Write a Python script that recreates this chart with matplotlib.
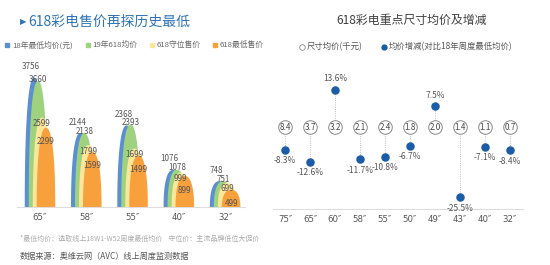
import matplotlib
matplotlib.use("Agg")
import matplotlib.pyplot as plt
import numpy as np
from matplotlib.lines import Line2D

plt.rcParams['font.family'] = ['Noto Sans CJK SC', 'DejaVu Sans']

# left chart data
sizes_l = ['65″', '58″', '55″', '40″', '32″']
series_names = ['18年最低均价(元)', '19年618均价', '618守位售价', '618最低售价']
low18 = [3756, 2144, 2368, 1076, 748]
avg19 = [3660, 2138, 2393, 1078, 751]
hold618 = [2599, 1799, 1699, 999, 699]
low618 = [2299, 1599, 1499, 899, 499]

# right chart data
sizes_r = ['75″', '65″', '60″', '58″', '55″', '50″', '49″', '43″', '40″', '32″']
avg_price = [8.4, 3.7, 3.2, 2.1, 2.4, 1.8, 2.0, 1.4, 1.1, 0.7]
change_pct = [-8.3, -12.6, 13.6, -11.7, -10.8, -6.7, 7.5, -25.5, -7.1, -8.4]

colors = ['#5b8fd0', '#9fd27e', '#fbe69a', '#f7a03c']
label_dy = [11, 2, -6, -14]      # px, label offset from the top of each arch
label_dx = [-3, 0, 0, 0]

W, H = 550, 265
fig = plt.figure(figsize=(W / 100, H / 100), dpi=100)
px = 0.72  # points per pixel


def fx(x):
    return x / W


def fy(y):
    return 1 - y / H


# ---------- left chart ----------
axl = fig.add_axes([fx(17), fy(207), fx(228), 147 / H])
axl.set_xlim(-0.497, 4.43)
axl.set_ylim(0, 4270)
width = 0.4
step = 0.0865
t = np.linspace(0, np.pi, 120)
ex = 2 / 2.3  # superellipse exponent -> fuller arch
for k, vals in enumerate([low18, avg19, hold618, low618]):
    for i, v in enumerate(vals):
        c = i + (k - 1.5) * step
        ct = np.cos(t)
        xs = c - width / 2 * np.sign(ct) * np.abs(ct) ** ex
        ys = v * np.abs(np.sin(t)) ** ex
        axl.fill(np.r_[xs, xs[-1], xs[0]], np.r_[ys, 0, 0], color=colors[k], lw=0, zorder=2 + k)
        axl.annotate(str(v), (c, v), xytext=(label_dx[k] * px, label_dy[k] * px),
                     textcoords='offset points', ha='center', va='center',
                     fontsize=5.8, color='#555555', zorder=10)
axl.set_xticks(range(len(sizes_l)))
axl.set_xticklabels(sizes_l, fontsize=6.2, color='#555555', family='DejaVu Sans')
axl.tick_params(axis='x', length=0, pad=4)
axl.set_yticks([])
for s in ['top', 'right', 'left']:
    axl.spines[s].set_visible(False)
axl.spines['bottom'].set_color('#dddddd')
axl.spines['bottom'].set_linewidth(0.8)
axl.patch.set_alpha(0)

fig.text(fx(20), fy(22), '▶', fontsize=6, color='#2f74b5', va='center', family='DejaVu Sans')
fig.text(fx(28), fy(22), '618彩电售价再探历史最低', fontsize=10, color='#2f74b5', va='center')

handles = [Line2D([], [], marker='s', ls='', color=c, markersize=2.8) for c in colors]
fig.legend(handles, series_names, loc='center left', bbox_to_anchor=(fx(-2), fy(45)),
           ncol=4, frameon=False, fontsize=5.6, handlelength=0.6, handletextpad=0.3,
           columnspacing=1.6, labelcolor='#666666')

fig.text(fx(20), fy(239), '*最低均价：选取线上18W1-W52周度最低均价    守位价：主流品牌低位大促价',
         fontsize=5.0, color='#aaaaaa', va='center')
fig.text(fx(20), fy(256), '数据来源：奥维云网（AVC）线上周度监测数据',
         fontsize=5.9, color='#555555', va='center')

# ---------- right chart ----------
axr = fig.add_axes([fx(272.5), fy(209), fx(250), 149 / H])
axr.set_xlim(-0.5, 9.5)
axr.set_ylim(-29.7, 24.3)
xr = np.arange(len(sizes_r))
for i, p in enumerate(change_pct):
    axr.plot([i, i], [0, p], ls=':', color='#aaaaaa', lw=0.6, zorder=1)
    off = 11 if p > 0 else -11
    axr.annotate(f'{p}%', (i, p), xytext=(0, off * px), textcoords='offset points',
                 ha='center', va='center', fontsize=6, color='#555555')
axr.scatter(xr, change_pct, s=26, color='#1b5ca6', zorder=3)
axr.scatter(xr, [0] * len(xr), s=95, facecolor='white', edgecolor='#888888', lw=0.7, zorder=3)
for i, a in enumerate(avg_price):
    axr.text(i, 0, f'{a}', ha='center', va='center', fontsize=5.8, color='#444444', zorder=4)
axr.set_xticks(xr)
axr.set_xticklabels(sizes_r, fontsize=6.2, color='#555555', family='DejaVu Sans')
axr.tick_params(axis='x', length=0, pad=4)
axr.set_yticks([])
for s in ['top', 'right', 'left']:
    axr.spines[s].set_visible(False)
axr.spines['bottom'].set_color('#dddddd')
axr.spines['bottom'].set_linewidth(0.8)
axr.patch.set_alpha(0)

fig.text(fx(412), fy(20), '618彩电重点尺寸均价及增减', fontsize=8.6, color='#404040',
         ha='center', va='center')
rh = [Line2D([], [], marker='o', ls='', markerfacecolor='white', markeredgecolor='#888888',
             markeredgewidth=0.6, markersize=4),
      Line2D([], [], marker='o', ls='', color='#1b5ca6', markersize=3.5)]
fig.legend(rh, ['尺寸均价(千元)', '均价增减(对比18年周度最低均价)'], loc='center left',
           bbox_to_anchor=(fx(292), fy(47)), ncol=2, frameon=False, fontsize=6,
           handlelength=0.6, handletextpad=0.3, columnspacing=2.2, labelcolor='#555555')

fig.savefig('out.png', dpi=100, facecolor='white')
